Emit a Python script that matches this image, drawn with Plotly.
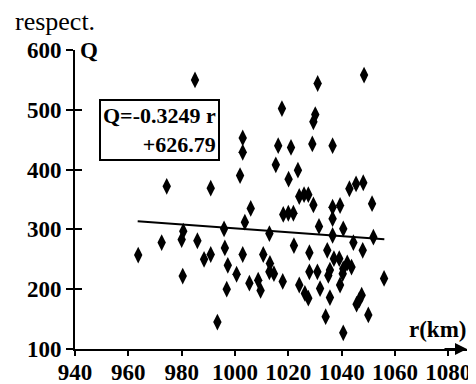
import plotly.graph_objects as go

# Data
r_km = [985.0, 1002.9, 1002.9, 1001.9, 974.4, 990.9, 1048.4, 1031.0, 1017.6, 1030.1,
        1029.4, 1016.2, 1021.0, 1029.0, 1036.6, 1015.3, 1023.6, 1020.1, 1042.9, 1045.4,
        1048.1, 1024.1, 1025.9, 1027.5, 1051.4, 1005.9, 1029.4, 1036.6, 1039.4, 1018.1,
        1020.0, 1021.9, 1003.7, 1036.6, 1031.5, 1040.6, 1012.9, 1036.6, 1051.9, 1044.4,
        1047.9, 1022.1, 1027.9, 1034.6, 1002.9, 1010.6, 1037.1, 1039.1, 1013.1, 1042.1,
        1043.7, 1040.6, 1040.4, 1012.9, 1014.6, 1027.9, 1030.9, 1035.6, 1035.0, 1000.6,
        1005.4, 1008.7, 1009.6, 1017.9, 1024.1, 1026.2, 1027.5, 1031.9, 1039.4, 1035.6,
        1055.9, 1047.5, 1046.6, 1045.6, 1034.0, 1050.0, 1040.6, 963.7, 972.5, 980.6,
        980.0, 985.9, 995.9, 996.2, 990.9, 988.4, 997.3, 980.4, 996.9, 993.4]
Q_vals = [550, 453, 429, 390, 372, 369, 558, 544, 502, 492,
          480, 440, 437, 443, 440, 408, 399, 384, 368, 376,
          378, 355, 358, 358, 343, 335, 341, 337, 340, 325,
          327, 327, 312, 318, 305, 301, 293, 290, 287, 278,
          265, 273, 261, 265, 258, 258, 251, 251, 243, 244,
          237, 234, 226, 229, 226, 229, 229, 232, 223, 225,
          210, 215, 198, 213, 207, 193, 185, 201, 207, 186,
          218, 190, 182, 175, 154, 157, 127, 257, 278, 297,
          283, 281, 301, 269, 258, 250, 240, 222, 200, 145]

# Trend line as stated on the chart: Q = -0.3249 r + 626.79
slope = -0.3249
intercept = 626.79
trend_r = [963.5, 1056.0]
trend_Q = [slope * v + intercept for v in trend_r]

x_ticks = [940, 960, 980, 1000, 1020, 1040, 1060, 1080]
y_ticks = [100, 200, 300, 400, 500, 600]

FONT = "Liberation Serif"

fig = go.Figure()
fig.add_trace(go.Scatter(
    x=r_km, y=Q_vals, mode="markers",
    marker=dict(symbol="diamond-tall", size=12, color="black"),
    showlegend=False, hoverinfo="skip"))
fig.add_trace(go.Scatter(
    x=trend_r, y=trend_Q, mode="lines",
    line=dict(color="black", width=2),
    showlegend=False, hoverinfo="skip"))
# invisible trace for the overlay axis that gives crossing ticks
fig.add_trace(go.Scatter(x=[940], y=[100], yaxis="y2", mode="markers",
                         marker=dict(opacity=0), showlegend=False, hoverinfo="skip"))

# the page body has an 8px margin, so the figure is sized to fit the window
fig.update_layout(
    width=468, height=376,
    margin=dict(l=67, r=9, t=42, b=35),
    paper_bgcolor="white", plot_bgcolor="white",
    font=dict(family=FONT, color="black"),
    xaxis=dict(range=[940, 1087], tickvals=x_ticks, showgrid=False, zeroline=False,
               automargin=False,
               showline=True, linecolor="black", linewidth=2,
               ticks="outside", ticklen=5, tickwidth=1.5, tickcolor="black",
               ticklabelstandoff=-4,
               tickfont=dict(family=FONT, size=23, weight="bold", color="black")),
    yaxis=dict(range=[100, 600], tickvals=y_ticks, showgrid=False, zeroline=False,
               automargin=False,
               showline=True, linecolor="black", linewidth=2,
               ticks="outside", ticklen=7, tickwidth=1.5, tickcolor="black",
               tickfont=dict(family=FONT, size=23, weight="bold", color="black")),
    yaxis2=dict(range=[100, 600], tickvals=y_ticks[:-1], overlaying="y", side="left",
                automargin=False,
                showgrid=False, zeroline=False, showline=False, showticklabels=False,
                ticks="inside", ticklen=7, tickwidth=1.5, tickcolor="black"),
)

annotations = [
    dict(x=1087, y=100, xref="x", yref="y", ax=1078, ay=100, axref="x", ayref="y",
         text="", showarrow=True, arrowhead=2, arrowsize=1.2, arrowwidth=2,
         arrowcolor="black"),
    dict(x=940, y=600, xref="x", yref="y", text="Q", showarrow=False,
         xanchor="left", yanchor="middle", xshift=3,
         font=dict(family=FONT, size=23, weight="bold", color="black")),
    dict(x=1087, y=100, xref="x", yref="y", text="r(km)", showarrow=False,
         xanchor="right", yanchor="bottom", xshift=1, yshift=5,
         font=dict(family=FONT, size=23, weight="bold", color="black")),
    dict(x=-0.158, y=1.094, xref="paper", yref="paper", text="respect.", showarrow=False,
         xanchor="left", yanchor="middle",
         font=dict(family=FONT, size=26, color="black")),
    dict(x=971.5, y=466, xref="x", yref="y", text="Q=-0.3249 r<br>+626.79",
         showarrow=False, align="right", xanchor="center", yanchor="middle",
         bordercolor="black", borderwidth=2, borderpad=2, bgcolor="white",
         font=dict(family=FONT, size=22, weight="bold", color="black")),
]
fig.update_layout(annotations=annotations)

fig.write_html("out.html")
